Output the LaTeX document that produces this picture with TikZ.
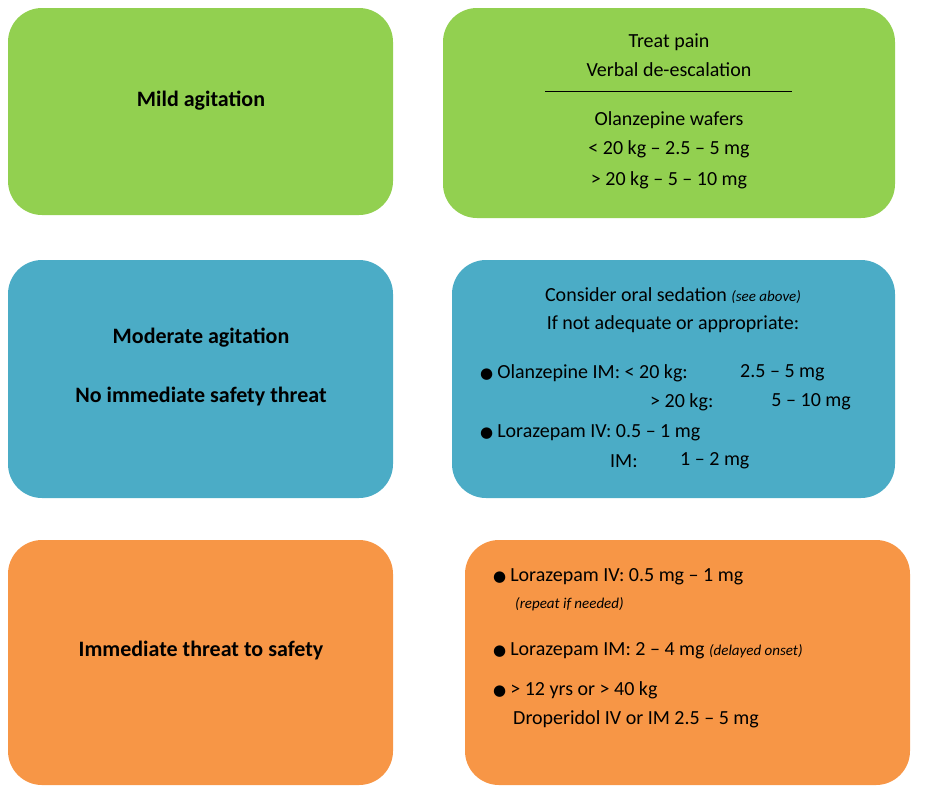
\documentclass[tikz,border=0pt]{standalone}
\usepackage{fontspec}
\setmainfont{Carlito}
\newfontfamily\dejavu{DejaVu Sans}
\definecolor{cgreen}{HTML}{92D050}
\definecolor{cblue}{HTML}{4BACC6}
\definecolor{corange}{HTML}{F79646}
\newcommand{\bul}{{\dejavu\fontsize{15}{18}\selectfont ●}\hspace{4pt}}
\begin{document}
\begin{tikzpicture}[x=1pt,y=-1pt,
  box/.style={rounded corners=34pt},
  txt/.style={inner sep=0pt,font=\fontsize{20}{24}\selectfont},
  ttl/.style={inner sep=0pt,font=\fontsize{22}{26}\selectfont\bfseries},
  note/.style={inner sep=0pt,font=\fontsize{15}{18}\selectfont\itshape}]
\useasboundingbox (0,0) rectangle (929,796);
\fill[box,cgreen] (8,8) rectangle (393,215);
\fill[box,cgreen] (443,8) rectangle (895,218);
\fill[box,cblue] (8,260) rectangle (393,498);
\fill[box,cblue] (452,260) rectangle (895,498);
\fill[box,corange] (8,540) rectangle (393,785);
\fill[box,corange] (465,540) rectangle (910,785);

\node[ttl] (t1) at (201,101) {Mild agitation};
\node[ttl] (t2) at (201,338) {Moderate agitation};
\node[ttl] (t3) at (201,397) {No immediate safety threat};
\node[ttl] (t4) at (201,650) {Immediate threat to safety};

\node[txt] (g1) at (669,42) {Treat pain};
\node[txt] (g2) at (669,70) {Verbal de-escalation};
\coordinate (la) at (545,91); \coordinate (lb) at (792,91);
\draw[line width=1pt] (la) -- (lb);
\node[txt] (g3) at (669,120) {Olanzepine wafers};
\node[txt] (g4) at (669,149) {< 20 kg – 2.5 – 5 mg};
\node[txt] (g5) at (669,180) {> 20 kg – 5 – 10 mg};

\node[txt] (b1) at (673,296) {Consider oral sedation {\fontsize{15}{18}\selectfont\itshape (see above)}};
\node[txt] (b2) at (673,324) {If not adequate or appropriate:};
\node[txt,anchor=west] (b3) at (480,373) {\bul Olanzepine IM: < 20 kg:};
\node[txt,anchor=west] (b3b) at (740,373) {2.5 – 5 mg};
\node[txt,anchor=west] (b4) at (650,402) {> 20 kg:};
\node[txt,anchor=east] (b4b) at (851,402) {5 – 10 mg};
\node[txt,anchor=west] (b5) at (480,433) {\bul Lorazepam IV: 0.5 – 1 mg};
\node[txt,anchor=west] (b6) at (610,461) {IM:};
\node[txt,anchor=west] (b6b) at (680,461) {1 – 2 mg};

\node[txt,anchor=west] (o1) at (493,577) {\bul Lorazepam IV: 0.5 mg – 1 mg};
\node[note,anchor=west] (o2) at (515,604) {(repeat if needed)};
\node[txt,anchor=west] (o3) at (493,651) {\bul Lorazepam IM: 2 – 4 mg {\fontsize{15}{18}\selectfont\itshape (delayed onset)}};
\node[txt,anchor=west] (o4) at (493,690) {\bul > 12 yrs or > 40 kg};
\node[txt,anchor=west] (o5) at (513,719) {Droperidol IV or IM 2.5 – 5 mg};
\end{tikzpicture}
\end{document}
